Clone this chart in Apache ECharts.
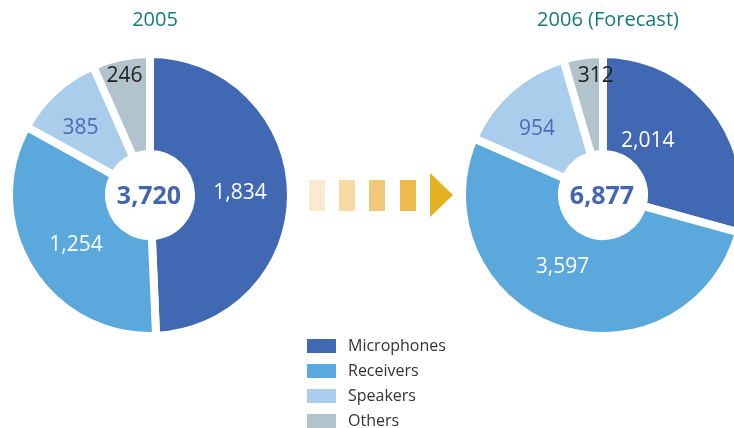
<!DOCTYPE html>
<html>
<head>
<meta charset="utf-8">
<script src="https://cdn.jsdelivr.net/npm/echarts@6/dist/echarts.min.js"></script>
<style>
  html, body { margin: 0; padding: 0; background: #fff; }
  #chart { width: 734px; height: 428px; }
</style>
</head>
<body>
<div id="chart"></div>
<script>
  var categories = ['Microphones', 'Receivers', 'Speakers', 'Others']
  var values2005 = [1834, 1254, 385, 246]
  var values2006 = [2014, 3597, 954, 312]
  var titles = ['2005', '2006 (Forecast)']
  // totals as printed in the ring centres (source rounding)
  var totals = [3720, 6877]

  var colors = ['#4169b3', '#5ba8dc', '#abcdec', '#b1c4cc']
  var labelColors = ['#ffffff', '#ffffff', '#4a6cb8', '#222222']
  // nudges for labels that don't sit at the ring's middle
  var offsets2005 = [[-4, 0], [6, 1], [-6, 2], [-6, -27]]
  var offsets2006 = [[-30, 3], [-9, -17], [-4, 5], [6, -26]]

  var font = '"Open Sans", Lato, sans-serif'

  function fmt(v) {
    return v.toLocaleString('en-US')
  }

  function makeData(values, offsets) {
    return values.map(function (v, i) {
      return {
        name: categories[i],
        value: v,
        itemStyle: { color: colors[i] },
        label: { color: labelColors[i], offset: offsets[i] }
      }
    })
  }

  function makePie(values, offsets, cx) {
    return {
      type: 'pie',
      center: [cx, 195],
      radius: [41, 141],
      startAngle: 90,
      clockwise: true,
      silent: true,
      itemStyle: { borderColor: '#fff', borderWidth: 8 },
      label: {
        show: true,
        position: 'inside',
        fontFamily: font,
        fontSize: 21,
        formatter: function (p) { return fmt(p.value) }
      },
      labelLine: { show: false },
      data: makeData(values, offsets)
    }
  }

  var chart = echarts.init(document.getElementById('chart'))

  var option = {
    animation: false,
    color: colors,
    title: [
      {
        text: titles[0], left: 150, top: 5, textAlign: 'center',
        textStyle: { color: '#17797a', fontFamily: font, fontSize: 20, fontWeight: 'normal' }
      },
      {
        text: titles[1], left: 603, top: 5, textAlign: 'center',
        textStyle: { color: '#17797a', fontFamily: font, fontSize: 20, fontWeight: 'normal' }
      },
      {
        text: fmt(totals[0]), left: 144, top: 179, textAlign: 'center',
        textStyle: { color: '#4466b0', fontFamily: font, fontSize: 25, fontWeight: 'bold' }
      },
      {
        text: fmt(totals[1]), left: 597, top: 179, textAlign: 'center',
        textStyle: { color: '#4466b0', fontFamily: font, fontSize: 25, fontWeight: 'bold' }
      }
    ],
    legend: {
      orient: 'vertical',
      left: 305,
      top: 337,
      height: 120,
      padding: 0,
      itemWidth: 31,
      itemHeight: 16,
      itemGap: 7,
      icon: 'rect',
      selectedMode: false,
      textStyle: { color: '#333', fontFamily: font, fontSize: 16, lineHeight: 16, padding: [0, 0, 0, 6] },
      data: categories
    },
    graphic: [
      { type: 'rect', shape: { x: 309, y: 180, width: 16, height: 31 }, style: { fill: '#f9ead0' } },
      { type: 'rect', shape: { x: 339, y: 180, width: 16, height: 31 }, style: { fill: '#f5dba3' } },
      { type: 'rect', shape: { x: 369, y: 180, width: 16, height: 31 }, style: { fill: '#f0c978' } },
      { type: 'rect', shape: { x: 400, y: 180, width: 16, height: 31 }, style: { fill: '#ecbb4d' } },
      { type: 'polygon', shape: { points: [[430, 173], [453, 195], [430, 217]] }, style: { fill: '#e2b020' } }
    ],
    series: [
      makePie(values2005, offsets2005, 150),
      makePie(values2006, offsets2006, 603)
    ]
  }

  chart.setOption(option)
</script>
</body>
</html>
